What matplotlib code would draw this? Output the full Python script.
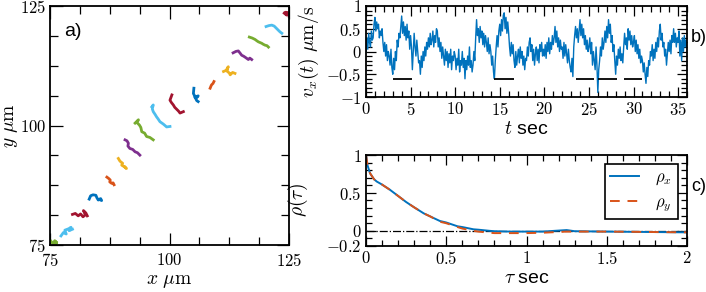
import matplotlib
matplotlib.use("Agg")
import matplotlib.pyplot as plt
from matplotlib.ticker import MultipleLocator, FixedLocator, FuncFormatter

plt.rcParams['font.family'] = ['Liberation Sans', 'DejaVu Sans']
plt.rcParams['mathtext.fontset'] = 'cm'

# --- panel a: trajectories (x, y in um), bottom-left to top-right
traj_colors = ['#77AC30', '#4DBEEE', '#A2142F', '#0072BD', '#D95319', '#EDB120', '#7E2F8E',
               '#77AC30', '#4DBEEE', '#A2142F', '#0072BD', '#D95319', '#EDB120', '#7E2F8E',
               '#77AC30', '#4DBEEE', '#A2142F']
traj_x = [
    [75.2, 75.6, 76.0, 76.4, 75.9, 76.3],
    [77.3, 77.8, 78.4, 78.1, 78.9, 79.4, 79.0, 79.7],
    [79.7, 80.3, 80.9, 81.4, 81.9, 82.4, 82.0, 82.5, 82.8],
    [83.2, 83.5, 84.0, 84.6, 84.8, 85.1, 85.6, 85.8, 85.4],
    [86.9, 87.3, 87.6, 87.5, 87.9, 88.2, 88.4],
    [89.3, 89.6, 89.8, 90.2, 90.0, 90.5, 91.0, 90.7],
    [90.7, 91.1, 91.4, 91.3, 91.7, 92.3, 92.8, 93.3, 93.8],
    [92.8, 93.5, 93.2, 93.7, 94.0, 94.2, 94.8, 95.2, 95.9, 96.6],
    [96.3, 96.6, 96.4, 96.6, 97.0, 97.3, 97.6, 98.0, 98.7, 99.4, 100.1],
    [100.5, 100.1, 100.4, 100.8, 101.1, 101.5, 101.9, 102.2, 102.9],
    [105.1, 105.0, 105.2, 105.3, 106.0, 105.5, 105.7, 106.0],
    [108.5, 108.7, 108.8, 109.1, 109.3],
    [111.3, 112.0, 112.3, 112.0, 112.1, 112.5, 112.7, 113.2, 113.7],
    [113.3, 113.9, 114.4, 114.8, 115.1, 115.5, 115.8, 116.5, 116.8, 117.2],
    [116.7, 117.3, 117.9, 118.3, 118.6, 119.3, 119.6, 120.0, 120.4, 120.7],
    [120.2, 120.8, 121.4, 121.9, 122.4, 122.8, 123.1, 123.5],
    [124.0, 124.5, 124.3, 124.9, 125.0],
]
traj_y = [
    [75.8, 75.3, 75.9, 75.4, 75.1, 75.6],
    [76.9, 77.6, 77.3, 78.1, 78.4, 78.7, 78.0, 78.3],
    [81.4, 81.6, 81.1, 81.5, 80.9, 81.3, 82.2, 81.7, 81.1],
    [84.6, 85.3, 85.5, 85.4, 84.9, 84.4, 84.7, 84.3, 84.5],
    [89.2, 88.9, 88.6, 88.2, 87.9, 88.0, 87.6],
    [93.1, 92.6, 92.4, 92.1, 91.7, 91.4, 91.0, 91.3],
    [97.0, 96.8, 96.3, 95.7, 95.2, 95.0, 94.5, 94.3, 93.8],
    [100.5, 101.2, 100.6, 100.1, 99.6, 98.7, 98.4, 97.7, 97.5, 97.0],
    [103.9, 104.3, 103.5, 102.9, 102.3, 101.8, 101.4, 100.8, 100.3, 99.7, 99.8],
    [106.4, 105.3, 104.8, 104.3, 103.8, 103.4, 103.0, 102.6, 102.9],
    [107.8, 106.7, 106.3, 105.9, 106.2, 105.6, 105.2, 105.0],
    [107.8, 108.3, 108.5, 108.8, 109.2],
    [111.3, 111.6, 112.3, 111.8, 111.3, 111.0, 110.6, 111.1, 110.9],
    [115.2, 115.5, 115.6, 115.1, 114.7, 114.5, 114.3, 113.8, 114.1, 113.8],
    [118.5, 118.3, 118.0, 117.7, 117.5, 117.2, 117.0, 116.8, 116.7, 116.4],
    [120.7, 120.9, 121.0, 120.8, 120.3, 119.9, 119.6, 119.3],
    [123.5, 123.1, 123.7, 123.6, 122.9],
]

# --- panel b: velocity trace, sampled every 0.1 s
v_dt = 0.1
vx = [0.0, 0.3, 0.05, 0.4, 0.2, 0.1, 0.45, 0.25, 0.3, 0.6, 0.75, 0.45, 0.65, 0.5, 0.6, 0.3, 0.45, 0.35, 0.5, 0.2,
      0.0, 0.2, -0.1, 0.15, -0.2, 0.0, -0.1, -0.3, 0.05, -0.35, -0.5, -0.15, -0.4, 0.0, -0.2, 0.25, 0.1, 0.4, 0.3, 0.55,
      0.78, 0.4, 0.65, 0.35, 0.55, 0.25, 0.6, 0.3, 0.45, 0.05, 0.35, 0.1, -0.4, 0.0, 0.4, 0.1, -0.1, 0.25, 0.0, -0.25,
      -0.2, -0.5, -0.1, -0.35, 0.0, -0.2, 0.1, -0.1, 0.2, 0.05, 0.3, 0.1, 0.4, 0.15, 0.25, 0.45, 0.1, 0.35, 0.2, 0.5,
      0.45, 0.1, 0.3, 0.0, 0.2, -0.15, 0.1, -0.1, -0.3, 0.05, -0.2, 0.0, -0.35, -0.05, -0.25, 0.05, -0.4, -0.1, -0.2, 0.0,
      -0.1, -0.4, -0.15, -0.3, 0.05, -0.45, -0.2, -0.3, 0.0, -0.35, -0.15, -0.6, -0.2, -0.4, -0.1, -0.3, 0.1, -0.35, -0.2, -0.45,
      -0.3, 0.0, -0.2, 0.3, 0.7, 0.35, 0.5, 0.2, 0.55, 0.3, 0.45, 0.15, 0.4, 0.1, 0.35, 0.2, 0.0, 0.3, -0.05, 0.15,
      0.0, -0.3, -0.1, -0.45, -0.6, -0.2, 0.1, 0.35, 0.1, 0.45, 0.6, 0.35, 0.7, 0.45, 0.8, 0.85, 0.5, 0.75, 0.4, 0.65,
      0.4, 0.1, -0.1, 0.2, -0.05, 0.15, -0.2, -0.35, 0.0, -0.3, -0.1, 0.05, -0.25, 0.1, -0.15, 0.0, -0.3, -0.1, -0.4, -0.15,
      -0.2, 0.1, -0.1, 0.2, 0.3, 0.0, 0.15, -0.2, 0.05, -0.3, -0.05, 0.1, -0.2, 0.05, -0.25, 0.15, 0.0, 0.2, -0.1, 0.05,
      -0.1, 0.15, -0.15, 0.2, 0.0, 0.3, -0.05, 0.2, 0.05, 0.35, 0.15, 0.3, 0.55, 0.2, 0.45, 0.1, 0.3, 0.0, 0.25, 0.05,
      0.1, -0.15, 0.2, -0.1, 0.15, -0.05, -0.25, 0.05, -0.2, -0.35, -0.45, -0.15, -0.55, 0.1, 0.35, 0.55, 0.3, 0.5, 0.2, 0.45,
      0.7, 0.35, 0.6, 0.3, 0.5, 0.15, 0.35, 0.05, 0.25, 0.0, 0.1, 0.3, -0.05, 0.2, -0.3, 0.0, -0.2, -0.4, 0.1, -0.3,
      -0.9, -0.4, -0.2, 0.1, -0.1, 0.3, 0.05, 0.2, 0.45, 0.2, 0.55, 0.3, 0.7, 0.4, 0.6, 0.2, 0.35, 0.0, 0.15, -0.2,
      -0.5, -0.1, -0.3, 0.05, -0.15, 0.1, -0.2, -0.05, -0.25, 0.1, 0.4, 0.15, 0.3, 0.05, 0.5, 0.25, 0.45, 0.15, 0.35, 0.1,
      0.2, 0.35, 0.0, 0.25, -0.05, 0.15, -0.15, 0.05, -0.25, -0.1, -0.2, -0.45, -0.25, -0.5, -0.7, -0.35, -0.55, -0.2, -0.3, 0.0,
      -0.1, 0.15, -0.2, 0.05, -0.15, 0.2, 0.0, 0.3, 0.1, 0.45, 0.6, 0.25, 0.4, 0.1, 0.2, -0.1, 0.05, -0.3, -0.05, 0.2,
      0.0, 0.25, -0.05, 0.35, 0.2, 0.5, 0.2, 0.4, 0.1, 0.3, 0.2, 0.45, -0.1, 0.25, -0.2, 0.3, 0.0, 0.35, 0.1, 0.25,
      0.1]
t = [i * v_dt for i in range(len(vx))]
seg_start = [3.0, 14.4, 23.5, 26.0, 28.9]
seg_end = [5.2, 16.6, 25.6, 28.1, 31.0]
seg_level = -0.6

# --- panel c: autocorrelation
tau = [0.0, 0.01, 0.025, 0.05, 0.067, 0.1, 0.15, 0.2, 0.25, 0.3, 0.36, 0.4, 0.46, 0.5,
       0.57, 0.6, 0.67, 0.7, 0.77, 0.8, 0.9, 1.0, 1.1, 1.25, 1.3, 1.5, 1.75, 2.0]
rho_x = [1.0, 0.86, 0.76, 0.68, 0.65, 0.61, 0.54, 0.46, 0.38, 0.31, 0.23, 0.19, 0.13, 0.11,
         0.06, 0.05, 0.02, 0.015, 0.0, -0.005, -0.01, -0.01, -0.01, 0.01, -0.005, -0.01, -0.015, -0.02]
rho_y = [1.0, 0.86, 0.76, 0.68, 0.65, 0.61, 0.54, 0.46, 0.38, 0.31, 0.23, 0.19, 0.12, 0.10,
         0.05, 0.03, 0.0, -0.01, -0.025, -0.03, -0.03, -0.03, -0.025, -0.01, -0.01, -0.01, -0.015, -0.02]

mfmt = FuncFormatter(lambda v, p: r'$%g$' % v)

fig = plt.figure(figsize=(7.06, 2.92), dpi=100)
W, H = 706.0, 292.0
ax_a = fig.add_axes([50 / W, (H - 245) / H, 239 / W, 239 / H])
ax_b = fig.add_axes([366 / W, (H - 97) / H, 321 / W, 91 / H])
ax_c = fig.add_axes([366 / W, (H - 246) / H, 321 / W, 91 / H])

for ax in (ax_a, ax_b, ax_c):
    for s in ax.spines.values():
        s.set_linewidth(1.3)
    ax.tick_params(which='both', direction='in', top=True, right=True,
                   labelsize=12, width=0.9, pad=3)
    ax.xaxis.set_major_formatter(mfmt)
    ax.yaxis.set_major_formatter(mfmt)

# a)
for xs, ys, c in zip(traj_x, traj_y, traj_colors):
    ax_a.plot(xs, ys, color=c, lw=2.0, solid_joinstyle='round')
ax_a.set_xlim(75, 125)
ax_a.set_ylim(75, 125)
ax_a.xaxis.set_major_locator(FixedLocator([75, 100, 125]))
ax_a.yaxis.set_major_locator(FixedLocator([75, 100, 125]))
ax_a.xaxis.set_minor_locator(MultipleLocator(6.25))
ax_a.yaxis.set_minor_locator(MultipleLocator(6.25))
ax_a.tick_params(which='major', length=9)
ax_a.tick_params(which='minor', length=6)
ax_a.tick_params(axis='x', pad=5)
ax_a.set_xlabel(r'$x\ \mu\mathrm{m}$', fontsize=14, labelpad=3)
ax_a.set_ylabel(r'$y\ \mu\mathrm{m}$', fontsize=14, labelpad=0)
ax_a.text(0.06, 0.93, 'a)', transform=ax_a.transAxes, fontsize=14, va='top')

# b)
ax_b.plot(t, vx, color='#0072BD', lw=1.0)
ax_b.hlines([seg_level] * len(seg_start), seg_start, seg_end, colors='k', lw=1.3)
ax_b.set_xlim(0, 36)
ax_b.set_ylim(-1, 1)
ax_b.xaxis.set_major_locator(MultipleLocator(5))
ax_b.xaxis.set_minor_locator(MultipleLocator(1))
ax_b.yaxis.set_major_locator(MultipleLocator(0.5))
ax_b.yaxis.set_minor_locator(MultipleLocator(0.1))
ax_b.tick_params(which='major', length=7)
ax_b.tick_params(which='minor', length=4.5)
ax_b.set_xlabel(r'$t$ sec', fontsize=14, labelpad=2)
ax_b.set_ylabel(r'$v_x(t)\ \mu\mathrm{m/s}$', fontsize=14, labelpad=4)
ax_b.text(1.012, 0.6, 'b)', transform=ax_b.transAxes, fontsize=13)

# c)
ax_c.plot(tau, rho_x, color='#0072BD', lw=1.4, label=r'$\rho_x$')
ax_c.plot(tau, rho_y, color='#D95319', lw=1.4, ls=(0, (5, 4)), label=r'$\rho_y$')
ax_c.axhline(0, color='k', lw=0.9, ls='-.', zorder=0)
ax_c.set_xlim(0, 2)
ax_c.set_ylim(-0.2, 1)
ax_c.xaxis.set_major_locator(MultipleLocator(0.5))
ax_c.xaxis.set_minor_locator(MultipleLocator(0.1))
ax_c.yaxis.set_major_locator(FixedLocator([-0.2, 0, 0.5, 1]))
ax_c.yaxis.set_minor_locator(MultipleLocator(0.1))
ax_c.tick_params(which='major', length=7)
ax_c.tick_params(which='minor', length=4.5)
ax_c.set_xlabel(r'$\tau$ sec', fontsize=14, labelpad=2)
ax_c.set_ylabel(r'$\rho(\tau)$', fontsize=14, labelpad=12)
leg = ax_c.legend(loc='upper right', fontsize=12, frameon=True, fancybox=False,
                  edgecolor='k', handlelength=1.7, labelspacing=0.45, borderpad=0.35,
                  handletextpad=1.0, bbox_to_anchor=(0.972, 0.90), borderaxespad=0,
                  framealpha=1)
leg.get_frame().set_linewidth(1.2)
ax_c.text(1.012, 0.6, 'c)', transform=ax_c.transAxes, fontsize=13)

fig.savefig('out.png', dpi=100)
